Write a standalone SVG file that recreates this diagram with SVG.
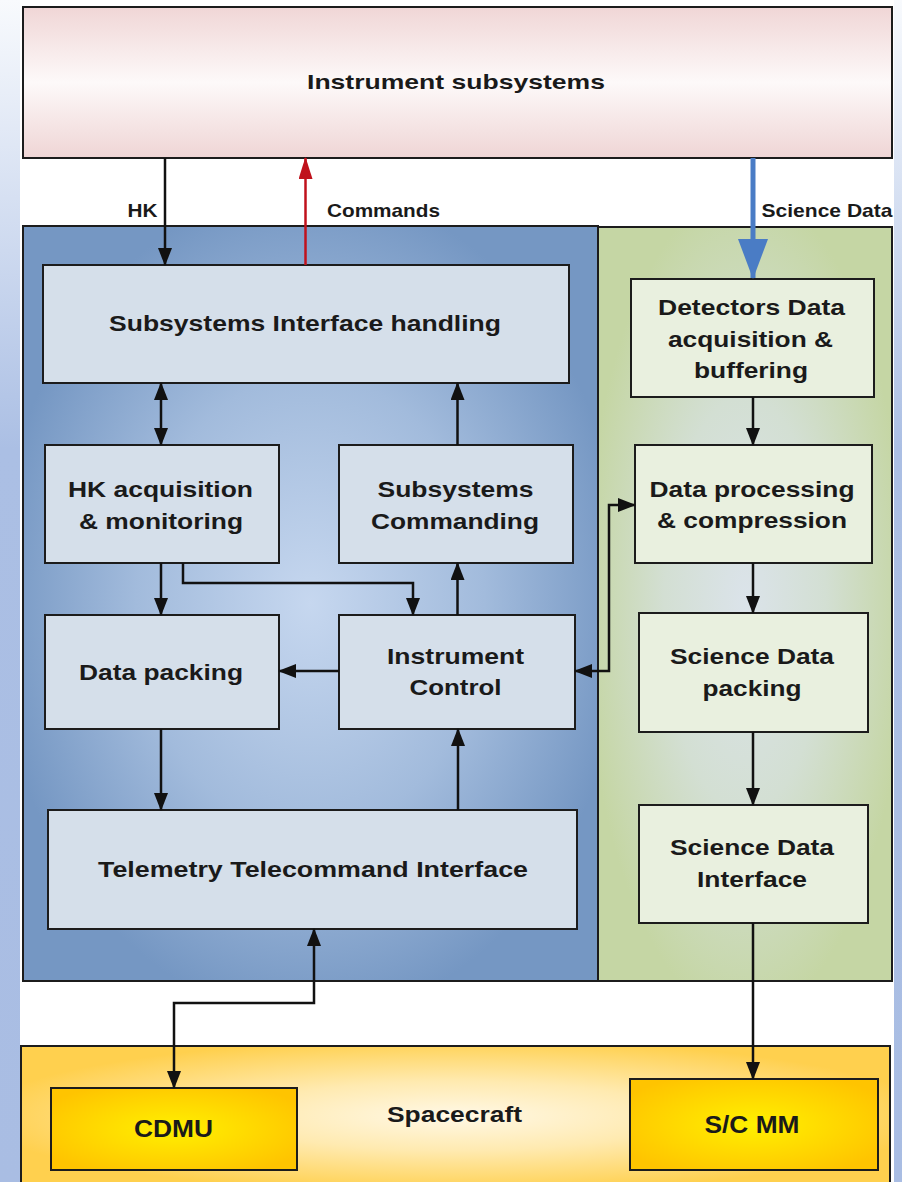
<svg xmlns="http://www.w3.org/2000/svg" width="902" height="1182" viewBox="0 0 902 1182">
<defs>
<linearGradient id="bg" x1="0" y1="0" x2="0" y2="1">
<stop offset="0" stop-color="#f8fafd"/>
<stop offset="0.38" stop-color="#abbfe4"/>
<stop offset="1" stop-color="#a9bde3"/>
</linearGradient>
<linearGradient id="pink" x1="0" y1="0" x2="0" y2="1">
<stop offset="0" stop-color="#f0d6d6"/>
<stop offset="0.5" stop-color="#fdf9f9"/>
<stop offset="1" stop-color="#efd5d5"/>
</linearGradient>
<radialGradient id="blue" cx="0.5" cy="0.5" r="0.55">
<stop offset="0" stop-color="#c6d7ef"/>
<stop offset="0.55" stop-color="#a2bbdc"/>
<stop offset="1" stop-color="#7597c3"/>
</radialGradient>
<radialGradient id="green" cx="0.5" cy="0.5" r="0.55">
<stop offset="0" stop-color="#dbe3ea"/>
<stop offset="0.5" stop-color="#d3dfd3"/>
<stop offset="1" stop-color="#c5d6a4"/>
</radialGradient>
<radialGradient id="sc" cx="0.5" cy="0.5" r="0.55">
<stop offset="0" stop-color="#fff8e6"/>
<stop offset="0.45" stop-color="#ffeab0"/>
<stop offset="1" stop-color="#ffd04e"/>
</radialGradient>
<radialGradient id="yel" cx="0.5" cy="0.5" r="0.6">
<stop offset="0" stop-color="#fff000"/>
<stop offset="1" stop-color="#ffc400"/>
</radialGradient>
<marker id="ah" viewBox="0 0 18 14" refX="17" refY="7" markerWidth="18" markerHeight="14" markerUnits="userSpaceOnUse" orient="auto-start-reverse">
<path d="M0,0 L18,7 L0,14 Z" fill="#111"/>
</marker>
<marker id="ahr" viewBox="0 0 22 14" refX="21" refY="7" markerWidth="22" markerHeight="14" markerUnits="userSpaceOnUse" orient="auto">
<path d="M0,0 L22,7 L0,14 Z" fill="#c0121c"/>
</marker>
<marker id="ahb" viewBox="0 0 40 30" refX="39" refY="15" markerWidth="40" markerHeight="30" markerUnits="userSpaceOnUse" orient="auto">
<path d="M0,0 L40,15 L0,30 Z" fill="#4a7cc5"/>
</marker>
<style>
.box{stroke:#1c1c1c;stroke-width:2}
.bn{fill:#d5dfea}
.gn{fill:#e9f0df}
.t{font-family:"Liberation Sans",Arial,sans-serif;font-weight:bold;font-size:22px;fill:#1a1a1a;text-anchor:middle}
.lbl{font-size:19px}
.big{font-size:24px}
.c{fill:none;stroke:#111;stroke-width:2.5}
</style>
</defs>

<rect x="0" y="0" width="902" height="1182" fill="url(#bg)"/>
<rect x="20" y="0" width="874" height="1182" fill="#ffffff"/>

<g id="instrument-subsystems">
<rect class="box" x="23" y="7" width="869" height="151" fill="url(#pink)"/>
<text class="t" x="456" y="89" font-size="21" textLength="298" lengthAdjust="spacingAndGlyphs" style="font-size:21px">Instrument subsystems</text>
</g>

<g id="dpu-container">
<rect class="box" x="23" y="226" width="575" height="755" fill="url(#blue)"/>
</g>
<g id="science-container">
<rect class="box" x="598" y="227" width="294" height="754" fill="url(#green)"/>
</g>

<g id="spacecraft">
<rect class="box" x="21" y="1046" width="869" height="140" fill="url(#sc)"/>
<text class="t" x="454.5" y="1122" textLength="135" lengthAdjust="spacingAndGlyphs">Spacecraft</text>
</g>

<g id="sih">
<rect class="box bn" x="43" y="265" width="526" height="118"/>
<text class="t" x="305" y="331" textLength="392" lengthAdjust="spacingAndGlyphs">Subsystems Interface handling</text>
</g>
<g id="hk-acq">
<rect class="box bn" x="45" y="445" width="234" height="118"/>
<text class="t" x="160.5" y="497" textLength="185" lengthAdjust="spacingAndGlyphs">HK acquisition</text>
<text class="t" x="161" y="529" textLength="164" lengthAdjust="spacingAndGlyphs">&amp; monitoring</text>
</g>
<g id="subsys-cmd">
<rect class="box bn" x="339" y="445" width="234" height="118"/>
<text class="t" x="455.5" y="497" textLength="156" lengthAdjust="spacingAndGlyphs">Subsystems</text>
<text class="t" x="455" y="529" textLength="168" lengthAdjust="spacingAndGlyphs">Commanding</text>
</g>
<g id="data-packing">
<rect class="box bn" x="45" y="615" width="234" height="114"/>
<text class="t" x="161" y="680" textLength="164" lengthAdjust="spacingAndGlyphs">Data packing</text>
</g>
<g id="instrument-control">
<rect class="box bn" x="339" y="615" width="236" height="114"/>
<text class="t" x="455.5" y="664" textLength="137" lengthAdjust="spacingAndGlyphs">Instrument</text>
<text class="t" x="455.5" y="695" textLength="92" lengthAdjust="spacingAndGlyphs">Control</text>
</g>
<g id="tti">
<rect class="box bn" x="48" y="810" width="529" height="119"/>
<text class="t" x="313" y="877" textLength="430" lengthAdjust="spacingAndGlyphs">Telemetry Telecommand Interface</text>
</g>

<g id="detectors">
<rect class="box gn" x="631" y="279" width="243" height="118"/>
<text class="t" x="751.5" y="315" textLength="187" lengthAdjust="spacingAndGlyphs">Detectors Data</text>
<text class="t" x="750.5" y="347" textLength="165" lengthAdjust="spacingAndGlyphs">acquisition &amp;</text>
<text class="t" x="751" y="378" textLength="114" lengthAdjust="spacingAndGlyphs">buffering</text>
</g>
<g id="data-processing">
<rect class="box gn" x="635" y="445" width="237" height="118"/>
<text class="t" x="752" y="497" textLength="205" lengthAdjust="spacingAndGlyphs">Data processing</text>
<text class="t" x="752" y="528" textLength="190" lengthAdjust="spacingAndGlyphs">&amp; compression</text>
</g>
<g id="sci-packing">
<rect class="box gn" x="639" y="613" width="229" height="119"/>
<text class="t" x="752" y="664" textLength="164" lengthAdjust="spacingAndGlyphs">Science Data</text>
<text class="t" x="752" y="696" textLength="99" lengthAdjust="spacingAndGlyphs">packing</text>
</g>
<g id="sci-interface">
<rect class="box gn" x="639" y="805" width="229" height="118"/>
<text class="t" x="752" y="855" textLength="164" lengthAdjust="spacingAndGlyphs">Science Data</text>
<text class="t" x="752" y="887" textLength="110" lengthAdjust="spacingAndGlyphs">Interface</text>
</g>

<g id="cdmu">
<rect class="box" x="51" y="1088" width="246" height="82" fill="url(#yel)"/>
<text class="t big" x="173.5" y="1137" textLength="79" lengthAdjust="spacingAndGlyphs">CDMU</text>
</g>
<g id="sc-mm">
<rect class="box" x="630" y="1079" width="248" height="91" fill="url(#yel)"/>
<text class="t big" x="752" y="1133" textLength="95" lengthAdjust="spacingAndGlyphs">S/C MM</text>
</g>

<g id="connectors">
<path class="c" d="M165 158 V265" marker-end="url(#ah)"/>
<path d="M305.5 265 V158" fill="none" stroke="#c0121c" stroke-width="2.5" marker-end="url(#ahr)"/>
<path d="M753 158 V278" fill="none" stroke="#4a7cc5" stroke-width="5" marker-end="url(#ahb)"/>
<path class="c" d="M161 383 V445" marker-start="url(#ah)" marker-end="url(#ah)"/>
<path class="c" d="M457.5 445 V383" marker-end="url(#ah)"/>
<path class="c" d="M161 563 V615" marker-end="url(#ah)"/>
<path class="c" d="M183 563 V583 H413 V615" marker-end="url(#ah)"/>
<path class="c" d="M457.5 615 V563" marker-end="url(#ah)"/>
<path class="c" d="M339 671 H279" marker-end="url(#ah)"/>
<path class="c" d="M575 671 H609 V505 H635" marker-start="url(#ah)" marker-end="url(#ah)"/>
<path class="c" d="M161 729 V810" marker-end="url(#ah)"/>
<path class="c" d="M458 810 V729" marker-end="url(#ah)"/>
<path class="c" d="M314 929 V1003 H174 V1088" marker-start="url(#ah)" marker-end="url(#ah)"/>
<path class="c" d="M753 397 V445" marker-end="url(#ah)"/>
<path class="c" d="M753 563 V613" marker-end="url(#ah)"/>
<path class="c" d="M753 732 V805" marker-end="url(#ah)"/>
<path class="c" d="M753 923 V1079" marker-end="url(#ah)"/>
</g>

<g id="labels">
<text class="t lbl" x="142.5" y="217" textLength="30" lengthAdjust="spacingAndGlyphs">HK</text>
<text class="t lbl" x="383.5" y="217" textLength="113" lengthAdjust="spacingAndGlyphs">Commands</text>
<text class="t lbl" x="827" y="217" textLength="131" lengthAdjust="spacingAndGlyphs">Science Data</text>
</g>
</svg>
